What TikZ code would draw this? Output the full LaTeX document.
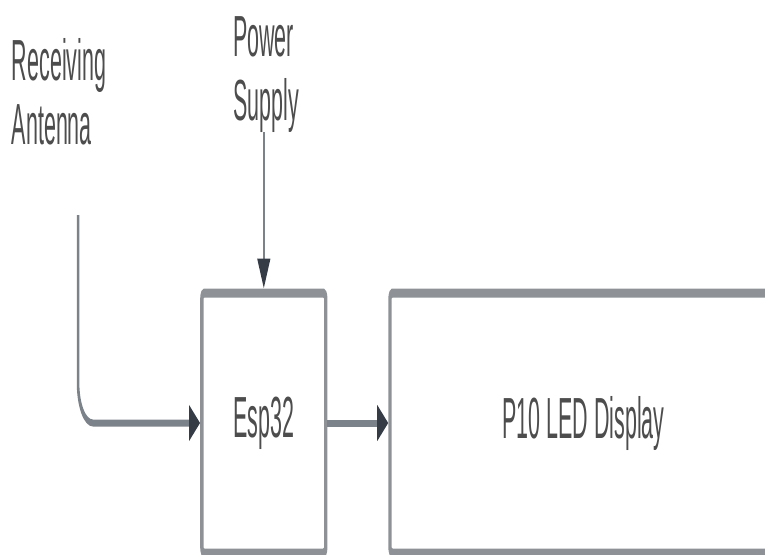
\documentclass[tikz,border=0pt]{standalone}
\usepackage{fontspec}
\setmainfont{Liberation Sans}
\usetikzlibrary{arrows.meta,positioning}
\definecolor{blkgray}{HTML}{8E9297}
\definecolor{wiregray}{HTML}{7C828A}
\definecolor{tipdark}{HTML}{353C46}
\definecolor{labelgray}{HTML}{4D4D4D}
\tikzset{
  block/.style={rectangle, rounded corners=6pt, draw=blkgray, line width=9pt, fill=white, align=center, text=labelgray, font=\fontsize{58}{64}\selectfont, inner sep=0pt},
  tag/.style={align=left, inner sep=0pt, text=labelgray, font=\fontsize{58}{64}\selectfont},
  link/.style={draw=wiregray, line width=7pt, -{Triangle[length=30pt, width=34pt, color=tipdark]}},
}

\begin{document}
\begin{tikzpicture}[x=1pt, y=-1pt]
  \useasboundingbox (0,0) rectangle (765,554);
  \begin{scope}[transform canvas={xscale=0.37}]
  \node[block, minimum width=335pt, minimum height=260pt] (esp) at (713,423) {Esp32};
  \node[block, minimum width=1046pt, minimum height=260pt] (p10) at (1577,423) {P10 LED Display};
  \node[tag, anchor=north west] (ant) at (32,38) {Receiving\\Antenna};
  \node[tag, anchor=north west] (ps) at (630,16) {Power\\Supply};
  \coordinate (antfeed) at (211,215);
  \draw[link, rounded corners=40pt] (antfeed) |- (esp.west);
  \draw[link] (ps.south -| esp.north) -- (esp.north);
  \draw[link] (esp) -- (p10);
  \end{scope}
\end{tikzpicture}
\end{document}
